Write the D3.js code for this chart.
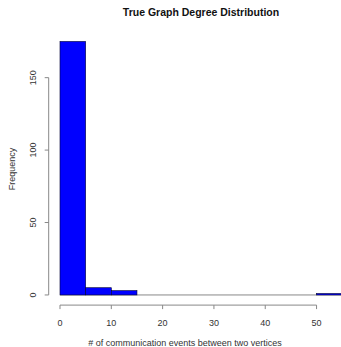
<!DOCTYPE html>
<html>
<head>
<meta charset="utf-8">
<script src="https://cdn.jsdelivr.net/npm/d3@7"></script>
<style>
  body { margin: 0; background: #fff; }
  svg { display: block; font-family: "Liberation Sans", Arial, sans-serif; }
</style>
</head>
<body>
<svg id="chart" width="341" height="347"></svg>
<script>
// histogram bins (left edges) and counts
const binStarts = [0, 5, 10, 15, 20, 25, 30, 35, 40, 45, 50];
const binWidth = 5;
const counts = [175, 5, 3, 0, 0, 0, 0, 0, 0, 0, 1];
const xTicks = [0, 10, 20, 30, 40, 50];
const yTicks = [0, 50, 100, 150];

const svg = d3.select('#chart');

// plot region like R: data range plus 4% on each side
const x = d3.scaleLinear().domain([-2.2, 57.2]).range([48.7, 353.5]);
const y = d3.scaleLinear().domain([-7, 182]).range([305.1, 31.3]);

const bins = binStarts.map(function(s, i) { return { x0: s, x1: s + binWidth, n: counts[i] }; });

// zero-height bins show up as a grey line along the base
svg.append('line')
  .attr('x1', x(0)).attr('x2', x(55))
  .attr('y1', y(0)).attr('y2', y(0))
  .attr('stroke', '#888').attr('stroke-width', 1);

svg.selectAll('rect.bar')
  .data(bins.filter(function(d) { return d.n > 0; }))
  .enter()
  .append('rect')
  .attr('class', 'bar')
  .attr('x', function(d) { return x(d.x0); })
  .attr('y', function(d) { return y(d.n); })
  .attr('width', function(d) { return x(d.x1) - x(d.x0); })
  .attr('height', function(d) { return y(0) - y(d.n); })
  .attr('fill', '#0000ff')
  .attr('stroke', '#000033')
  .attr('stroke-width', 0.6);

// x axis (R style: line only spans the ticks)
const xAxis = svg.append('g').attr('transform', 'translate(0,' + y(-7) + ')');
xAxis.append('line')
  .attr('x1', x(xTicks[0])).attr('x2', x(xTicks[xTicks.length - 1]))
  .attr('stroke', '#888');
xAxis.selectAll('line.tick')
  .data(xTicks).enter().append('line')
  .attr('class', 'tick')
  .attr('x1', function(d) { return x(d); }).attr('x2', function(d) { return x(d); })
  .attr('y1', 0).attr('y2', 4)
  .attr('stroke', '#888');
xAxis.selectAll('text')
  .data(xTicks).enter().append('text')
  .attr('x', function(d) { return x(d); })
  .attr('y', 20.5)
  .attr('text-anchor', 'middle')
  .attr('font-size', 9)
  .attr('fill', '#333')
  .text(function(d) { return d; });

// y axis
const yAxis = svg.append('g').attr('transform', 'translate(' + x(-2.2) + ',0)');
yAxis.append('line')
  .attr('y1', y(yTicks[0])).attr('y2', y(yTicks[yTicks.length - 1]))
  .attr('stroke', '#888');
yAxis.selectAll('line.tick')
  .data(yTicks).enter().append('line')
  .attr('class', 'tick')
  .attr('y1', function(d) { return y(d); }).attr('y2', function(d) { return y(d); })
  .attr('x1', 0).attr('x2', -4)
  .attr('stroke', '#888');
yAxis.selectAll('text')
  .data(yTicks).enter().append('text')
  .attr('transform', function(d) { return 'translate(-13,' + y(d) + ') rotate(-90)'; })
  .attr('text-anchor', 'middle')
  .attr('font-size', 9)
  .attr('fill', '#333')
  .text(function(d) { return d; });

// labels
svg.append('text')
  .attr('x', 201).attr('y', 16)
  .attr('text-anchor', 'middle')
  .attr('font-size', 10.5)
  .attr('font-weight', 'bold')
  .attr('fill', '#111')
  .text('True Graph Degree Distribution');

svg.append('text')
  .attr('x', 185).attr('y', 345.5)
  .attr('text-anchor', 'middle')
  .attr('font-size', 9)
  .attr('fill', '#333')
  .text('# of communication events between two vertices');

svg.append('text')
  .attr('transform', 'translate(15,169) rotate(-90)')
  .attr('text-anchor', 'middle')
  .attr('font-size', 9)
  .attr('fill', '#333')
  .text('Frequency');
</script>
</body>
</html>
